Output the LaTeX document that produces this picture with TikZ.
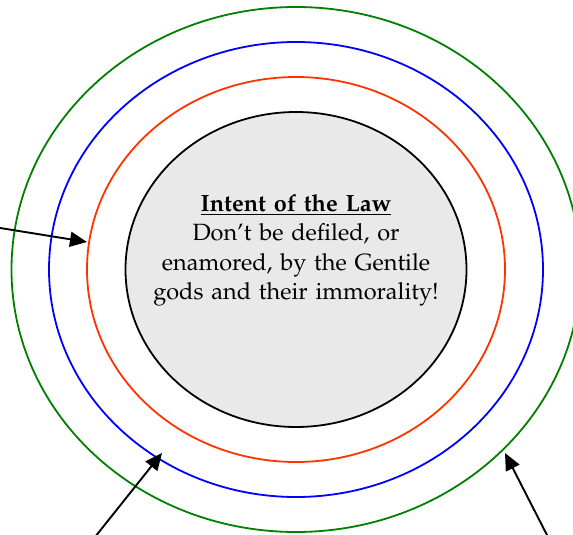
\documentclass[tikz,border=0pt]{standalone}
\usepackage[T1]{fontenc}
\usepackage{mathpazo}
\usetikzlibrary{arrows.meta}
\definecolor{ringgreen}{RGB}{0,128,0}
\definecolor{ringblue}{RGB}{0,0,255}
\definecolor{ringred}{RGB}{255,51,0}
\definecolor{coregray}{RGB}{233,233,233}
\tikzset{
  ring/.style={line width=1.8pt},
  pointer/.style={line width=1.9pt, -{Triangle[length=17pt,width=15pt]}},
}
\begin{document}
\begin{tikzpicture}[x=1pt,y=-1pt]
\useasboundingbox (0,0) rectangle (573,535);
\coordinate (c) at (296,269.5);
\draw[ring, ringgreen] (c) ellipse [x radius=284.5, y radius=262.5];
\draw[ring, ringblue] (c) ellipse [x radius=247, y radius=227.5];
\draw[ring, ringred] (c) ellipse [x radius=209, y radius=192.5];
\draw[ring, black, fill=coregray] (c) ellipse [x radius=170.5, y radius=157.5];
\node[text width=320pt, align=center, inner sep=0pt, anchor=base,
      font=\fontsize{23.5}{29.5}\selectfont] (law) at (296,211)
  {\underline{\textbf{Intent of the Law}}\\
   Don't be defiled, or\\
   enamored, by the Gentile\\
   gods and their immorality!};
\coordinate (a1s) at (-6,227);
\coordinate (a1e) at (87,242);
\coordinate (a2s) at (95,537);
\coordinate (a2e) at (162,453);
\coordinate (a3s) at (548,537);
\coordinate (a3e) at (505,453);
\draw[pointer] (a1s) -- (a1e);
\draw[pointer] (a2s) -- (a2e);
\draw[pointer] (a3s) -- (a3e);
\end{tikzpicture}
\end{document}
